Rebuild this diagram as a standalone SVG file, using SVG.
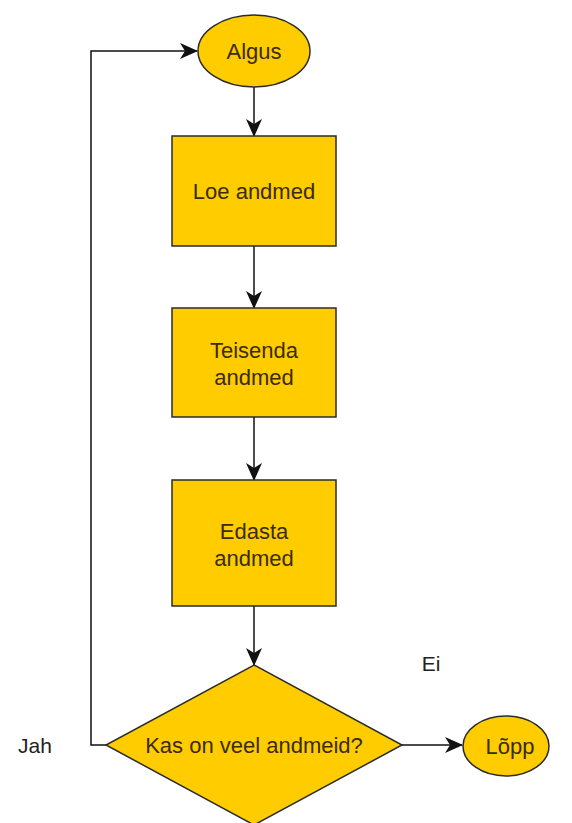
<svg xmlns="http://www.w3.org/2000/svg" width="572" height="823" viewBox="0 0 572 823">
<defs>
<style>
.n{fill:#FFCC00;stroke:#2b2b2b;stroke-width:1.5}
.t{font-family:"Liberation Sans",Arial,sans-serif;font-size:22px;fill:#3a2c0a;text-anchor:middle;dominant-baseline:central}
.l{font-family:"Liberation Sans",Arial,sans-serif;font-size:21px;fill:#222;text-anchor:middle;dominant-baseline:central}
.c{fill:none;stroke:#111;stroke-width:1.5}
</style>
<marker id="a" viewBox="0 0 18 16" refX="17" refY="8" markerWidth="18" markerHeight="16" markerUnits="userSpaceOnUse" orient="auto">
<path d="M0,0 L18,8 L0,16 L5,8 Z" fill="#111"/>
</marker>
</defs>
<rect width="572" height="823" fill="#fff"/>
<g id="connectors">
<line class="c" x1="254" y1="87" x2="254" y2="136" marker-end="url(#a)"/>
<line class="c" x1="254" y1="246" x2="254" y2="308" marker-end="url(#a)"/>
<line class="c" x1="254" y1="417" x2="254" y2="480" marker-end="url(#a)"/>
<line class="c" x1="254" y1="606" x2="254" y2="665" marker-end="url(#a)"/>
<polyline class="c" points="106,745 91,745 91,51 197,51" marker-end="url(#a)"/>
<line class="c" x1="402" y1="745" x2="462" y2="745" marker-end="url(#a)"/>
</g>
<g id="algus"><ellipse class="n" cx="254" cy="51" rx="56" ry="36"/><text class="t" x="254" y="51">Algus</text></g>
<g id="loe"><rect class="n" x="172" y="136" width="164" height="110"/><text class="t" x="254" y="191">Loe andmed</text></g>
<g id="teisenda"><rect class="n" x="172" y="308" width="164" height="109"/><text class="t" x="254" y="350">Teisenda</text><text class="t" x="254" y="377">andmed</text></g>
<g id="edasta"><rect class="n" x="172" y="480" width="164" height="126"/><text class="t" x="254" y="531">Edasta</text><text class="t" x="254" y="558">andmed</text></g>
<g id="otsus"><polygon class="n" points="254,665 402,745 254,825 106,745"/><text class="t" x="254" y="745">Kas on veel andmeid?</text></g>
<g id="lopp"><ellipse class="n" cx="506" cy="746" rx="43" ry="30"/><text class="t" x="510" y="746">Lõpp</text></g>
<g id="labels"><text class="l" x="35" y="745">Jah</text><text class="l" x="431" y="663">Ei</text></g>
</svg>
